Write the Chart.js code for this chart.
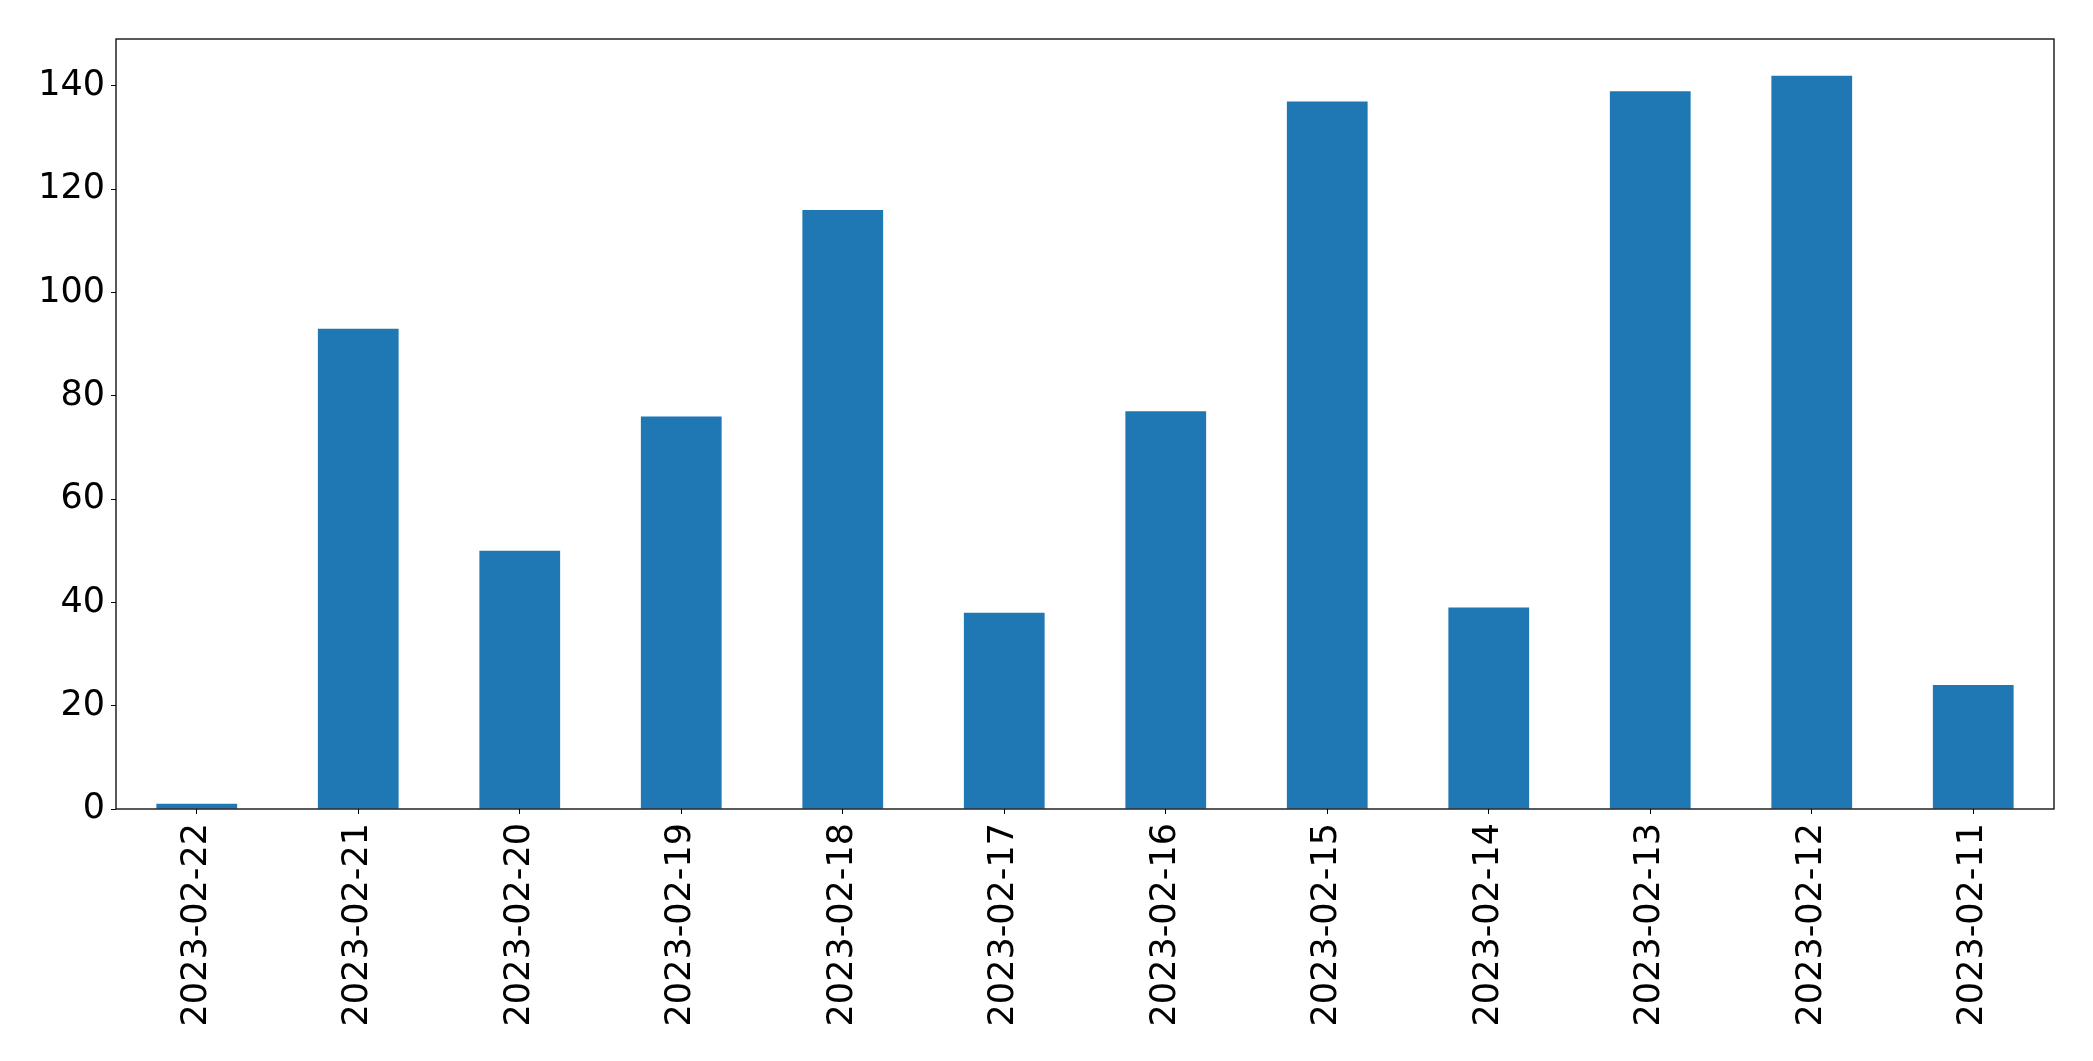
<!DOCTYPE html>
<html>
<head>
<meta charset="utf-8">
<script src="https://cdn.jsdelivr.net/npm/chart.js@4/dist/chart.umd.min.js"></script>
<style>
    html, body { margin: 0; padding: 0; background: #fff; }
    #wrap { width: 2093px; height: 1061px; }
</style>
</head>
<body>
<div id="wrap"><canvas id="barChart" width="2093" height="1061"></canvas></div>
<script>
const dates = ['2023-02-22', '2023-02-21', '2023-02-20', '2023-02-19', '2023-02-18', '2023-02-17',
    '2023-02-16', '2023-02-15', '2023-02-14', '2023-02-13', '2023-02-12', '2023-02-11'];
const counts = [1, 93, 50, 76, 116, 38, 77, 137, 39, 139, 142, 24];
const yTicks = [0, 20, 40, 60, 80, 100, 120, 140];

// frame around the plot area, like matplotlib spines
const frame = {
    id: 'frame',
    afterDraw(chart) {
        const { ctx, chartArea: a } = chart;
        ctx.save();
        ctx.strokeStyle = '#000';
        ctx.lineWidth = 1.3;
        ctx.strokeRect(a.left, a.top, a.right - a.left, a.bottom - a.top);
        ctx.restore();
    }
};

const ctx = document.getElementById('barChart').getContext('2d');
new Chart(ctx, {
    type: 'bar',
    data: {
        labels: dates,
        datasets: [{
            data: counts,
            backgroundColor: '#1f77b4',
            barPercentage: 0.5,
            categoryPercentage: 1.0
        }]
    },
    options: {
        responsive: false,
        animation: false,
        layout: { padding: { top: 39, right: 39, left: 0, bottom: 0 } },
        plugins: { legend: { display: false }, tooltip: { enabled: false } },
        scales: {
            x: {
                grid: { display: true, offset: false, drawOnChartArea: false, drawTicks: true, tickLength: 5, color: '#000' },
                border: { display: false },
                ticks: {
                    color: '#000',
                    font: { family: 'DejaVu Sans', size: 35 },
                    maxRotation: 90,
                    minRotation: 90,
                    padding: 9
                },
                afterFit: (s) => { s.height = 1061 - 809; }
            },
            y: {
                min: 0,
                max: Math.max(...counts) * 1.05,
                afterBuildTicks: (s) => { s.ticks = yTicks.map(v => ({ value: v })); },
                grid: { display: true, drawOnChartArea: false, drawTicks: true, tickLength: 5, color: '#000' },
                border: { display: false },
                ticks: {
                    color: '#000',
                    font: { family: 'DejaVu Sans', size: 35 },
                    padding: 6
                },
                afterFit: (s) => { s.width = 116; }
            }
        }
    },
    plugins: [frame]
});
</script>
</body>
</html>
